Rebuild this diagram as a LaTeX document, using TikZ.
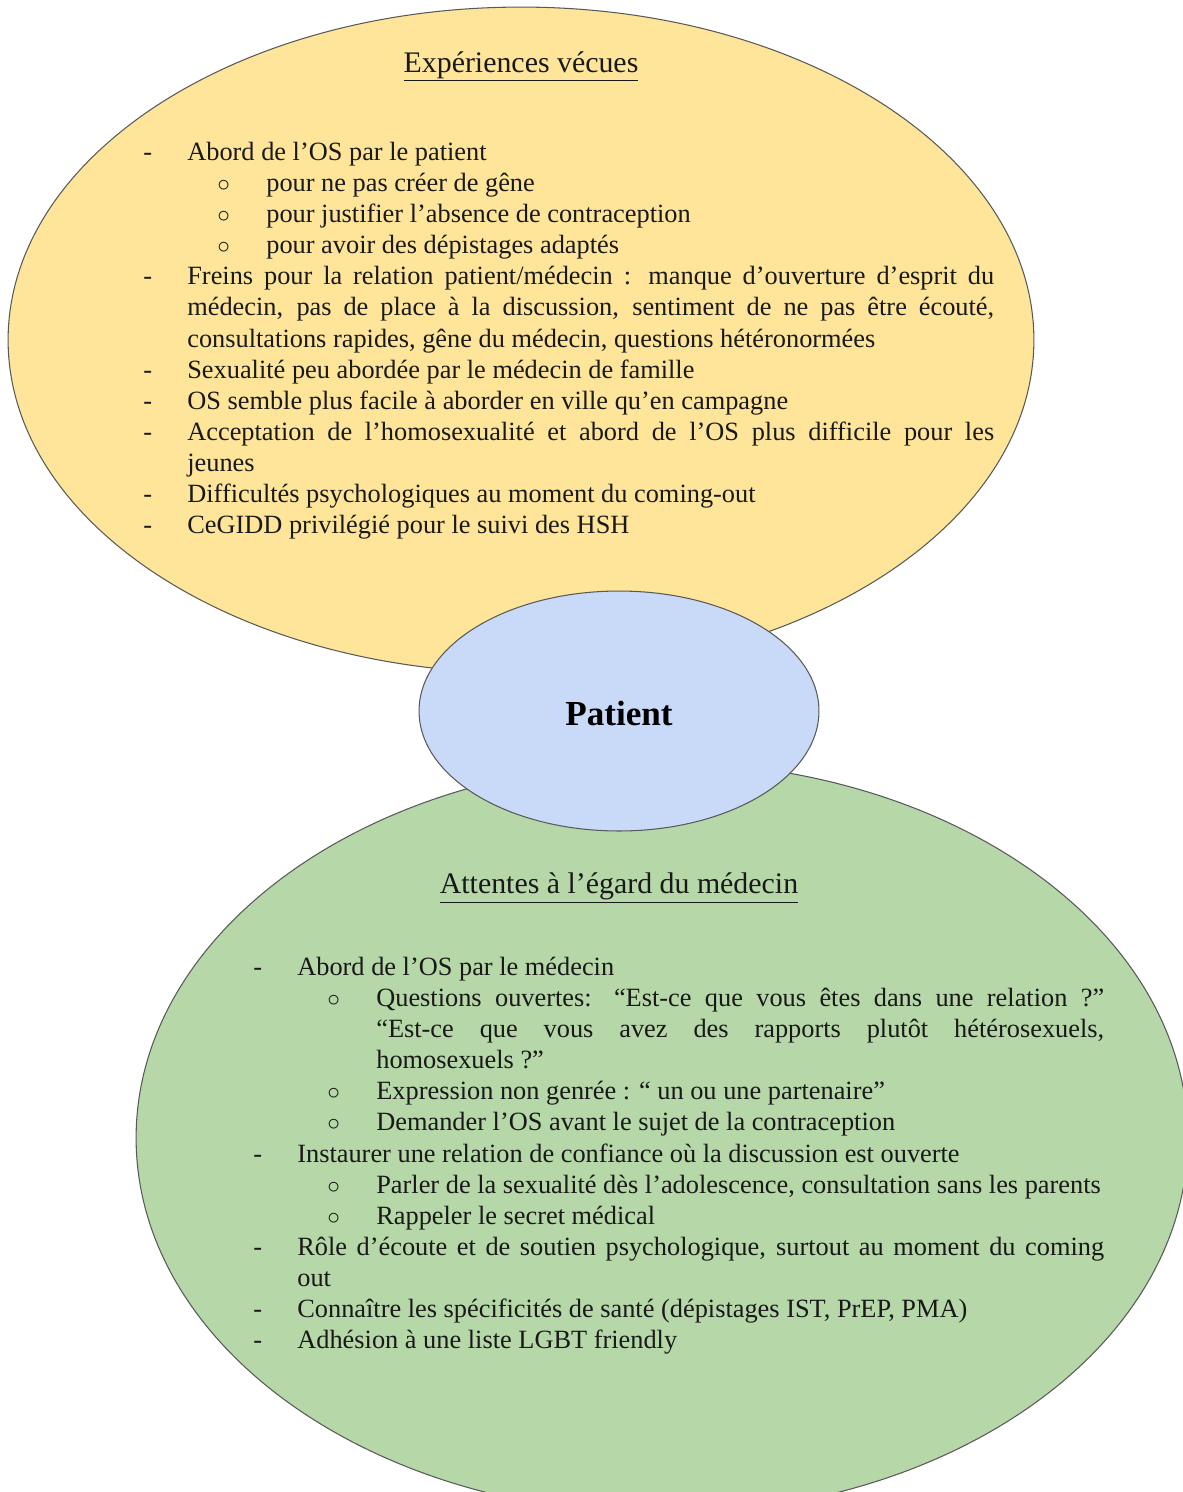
\documentclass[tikz,border=0pt]{standalone}
\usepackage{fontspec}
\setmainfont{Liberation Serif}
\usetikzlibrary{shapes.geometric}

\hyphenpenalty=10000
\exhyphenpenalty=10000

% list items inside the bubbles
\newlength{\dashgap}\setlength{\dashgap}{0.88cm}
\newcommand{\dashitem}[1]{\par\noindent\hangindent=\dashgap\hangafter=1\makebox[\dashgap][l]{-}#1}
\newcommand{\circitem}[1]{\par\noindent\hangindent=2.46cm\hangafter=1\hspace*{1.48cm}\makebox[0.98cm][l]{$\circ$}#1}

\begin{document}
\begin{tikzpicture}[
    x=0.02cm, y=-0.02cm,
    bubble/.style={ellipse, draw=black!65, line width=0.6pt, inner sep=0pt},
    listtext/.style={anchor=north west, inner sep=0pt, text width=17.02cm, align=justify,
        font=\fontsize{15}{17.7}\selectfont, text=black!90},
    heading/.style={anchor=base, inner sep=0pt, font=\fontsize{17}{20}\selectfont, text=black!90}
]

% Define colors
\definecolor{bubbleyellow}{HTML}{FFE599}
\definecolor{bubbleblue}{HTML}{C9DAF8}
\definecolor{bubblegreen}{HTML}{B6D7A8}

\useasboundingbox (0,0) rectangle (1183,1492);

% Bubbles
\node[bubble, fill=bubbleyellow, minimum width=20.52cm, minimum height=13.32cm] (vecues) at (521,340) {};
\node[bubble, fill=bubblegreen, minimum width=21.04cm, minimum height=15.04cm] (attentes) at (662,1138) {};
\node[bubble, fill=bubbleblue, minimum width=8cm, minimum height=4.8cm] (patient) at (619,711) {};

% Patient label
\node[anchor=base, inner sep=0pt, font=\fontsize{20}{24}\selectfont\bfseries] (patientLabel) at (619,725) {Patient};

% Lived experiences
\node[heading] (vecuesTitle) at (521,72) {\underline{Expériences vécues}};
\node[listtext] (vecuesList) at (143,129) {%
\dashitem{Abord de l’OS par le patient}
\circitem{pour ne pas créer de gêne}
\circitem{pour justifier l’absence de contraception}
\circitem{pour avoir des dépistages adaptés}
\dashitem{Freins pour la relation patient/médecin : manque d’ouverture d’esprit du\linebreak médecin, pas de place à la discussion, sentiment de ne pas être écouté,\linebreak consultations rapides, gêne du médecin, questions hétéronormées}
\dashitem{Sexualité peu abordée par le médecin de famille}
\dashitem{OS semble plus facile à aborder en ville qu’en campagne}
\dashitem{Acceptation de l’homosexualité et abord de l’OS plus difficile pour les\linebreak jeunes}
\dashitem{Difficultés psychologiques au moment du coming-out}
\dashitem{CeGIDD privilégié pour le suivi des HSH}};

% Expectations towards the doctor
\node[heading] (attentesTitle) at (619,893) {\underline{Attentes à l’égard du médecin}};
\node[listtext] (attentesList) at (253,944) {%
\dashitem{Abord de l’OS par le médecin}
\circitem{Questions ouvertes: “Est-ce que vous êtes dans une relation ?”\linebreak “Est-ce que vous avez des rapports plutôt hétérosexuels,\linebreak homosexuels ?”}
\circitem{Expression non genrée : “ un ou une partenaire”}
\circitem{Demander l’OS avant le sujet de la contraception}
\dashitem{Instaurer une relation de confiance où la discussion est ouverte}
\circitem{Parler de la sexualité dès l’adolescence, consultation sans les parents}
\circitem{Rappeler le secret médical}
\dashitem{Rôle d’écoute et de soutien psychologique, surtout au moment du coming\linebreak out}
\dashitem{Connaître les spécificités de santé (dépistages IST, PrEP, PMA)}
\dashitem{Adhésion à une liste LGBT friendly}};

\end{tikzpicture}
\end{document}
